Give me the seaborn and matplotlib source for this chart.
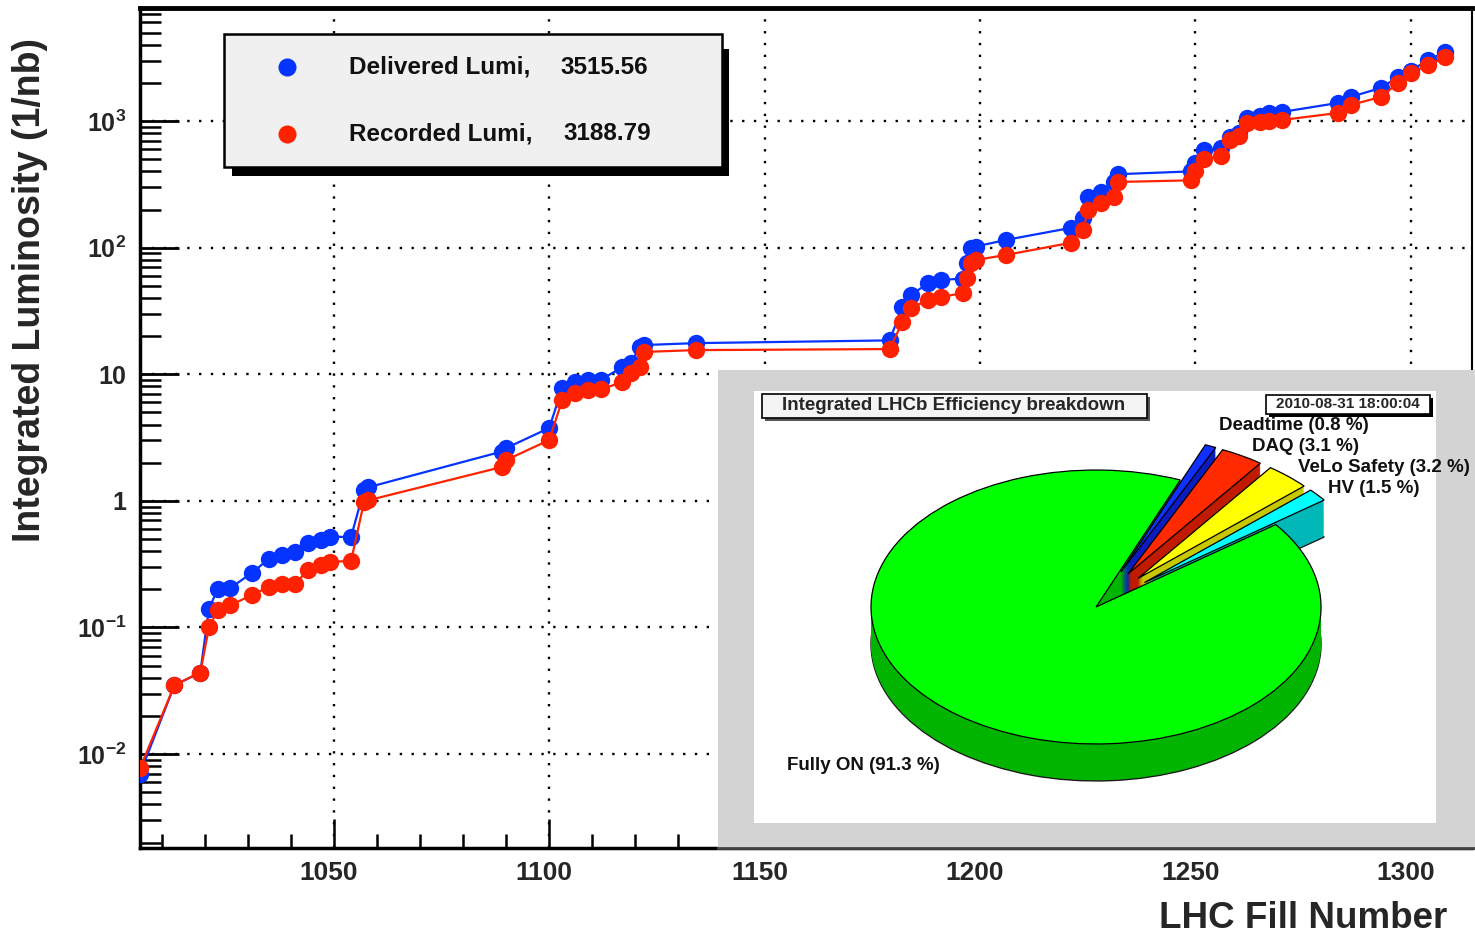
import numpy as np
import pandas as pd
import matplotlib
matplotlib.use("Agg")
import matplotlib.pyplot as plt
import seaborn as sns
from matplotlib.patches import Rectangle
from matplotlib.lines import Line2D
from matplotlib.transforms import ScaledTranslation
from matplotlib.ticker import FixedLocator, MultipleLocator, LogLocator, NullFormatter

# ---------------- data ----------------
fills = [1005, 1013, 1019, 1021, 1023, 1026, 1031, 1035, 1038, 1041, 1044, 1047, 1049,
         1054, 1057, 1058, 1089, 1090, 1100, 1103, 1106, 1109, 1112, 1117, 1119, 1121,
         1122, 1134, 1179, 1182, 1184, 1188, 1191, 1196, 1197, 1198, 1199, 1206, 1221,
         1224, 1225, 1228, 1231, 1232, 1249, 1250, 1252, 1256, 1258, 1260, 1262, 1265,
         1267, 1270, 1283, 1286, 1293, 1297, 1300, 1304, 1308]
delivered = [0.0070, 0.035, 0.044, 0.14, 0.20, 0.205, 0.27, 0.35, 0.373, 0.394, 0.465, 0.49, 0.518,
             0.52, 1.22, 1.28, 2.45, 2.61, 3.76, 7.78, 8.67, 9.0, 9.05, 11.4, 12.3, 16.5,
             17.0, 17.6, 18.5, 34.0, 42.3, 52.5, 55.5, 57.0, 75.0, 100.0, 102.0, 115.0, 143.0,
             170.0, 251.0, 275.0, 330.0, 380.0, 400.0, 470.0, 590.0, 610.0, 748.0, 804.0, 1056.0, 1100.0,
             1157.0, 1178.0, 1387.0, 1548.0, 1823.0, 2227.0, 2500.0, 3032.0, 3515.56]
recorded = [0.0077, 0.035, 0.044, 0.10, 0.137, 0.15, 0.18, 0.21, 0.22, 0.22, 0.284, 0.311, 0.329,
            0.335, 0.98, 1.01, 1.85, 2.10, 3.02, 6.25, 7.11, 7.5, 7.6, 8.67, 10.2, 11.4,
            15.0, 15.5, 15.8, 25.8, 33.4, 38.6, 40.7, 43.8, 57.5, 75.5, 79.8, 87.5, 109.0,
            138.0, 198.0, 225.0, 251.0, 330.0, 340.0, 400.0, 500.0, 530.0, 708.0, 760.0, 964.0, 980.0,
            1000.0, 1018.0, 1157.0, 1337.0, 1548.0, 1995.0, 2395.0, 2767.0, 3188.79]

series_names = ["Delivered Lumi,", "Recorded Lumi,"]
x_ticks = [1050, 1100, 1150, 1200, 1250, 1300]
y_ticks = [1e-2, 1e-1, 1, 10, 1e2, 1e3]
y_tick_labels = [r"$10^{-2}$", r"$10^{-1}$", "1", "10", r"$10^{2}$", r"$10^{3}$"]

eff_labels = ["Deadtime", "DAQ", "VeLo Safety", "HV", "Fully ON"]
eff_values = [0.8, 3.1, 3.2, 1.5, 91.3]
eff_top_colors = ["#1030ff", "#ff2a00", "#ffff00", "#00ffff", "#00ff00"]
eff_side_colors = ["#0a1cc0", "#c01a00", "#c8c800", "#00b8b8", "#00b400"]
eff_explode = [0.28, 0.28, 0.28, 0.28, 0.0]
pie_title = "Integrated LHCb Efficiency breakdown"
pie_date = "2010-08-31 18:00:04"

BLUE = "#0533ff"
RED = "#ff2200"

# ---------------- style ----------------
sns.set_theme(style="white")
plt.rcParams["font.family"] = ["Liberation Sans", "DejaVu Sans"]
plt.rcParams["font.weight"] = "bold"
plt.rcParams["mathtext.fontset"] = "custom"
plt.rcParams["mathtext.rm"] = "Liberation Sans:bold"
plt.rcParams["mathtext.bf"] = "Liberation Sans:bold"
plt.rcParams["mathtext.it"] = "Liberation Sans:bold"
plt.rcParams["mathtext.default"] = "rm"

W, H = 1475, 935
fig = plt.figure(figsize=(W / 100, H / 100), dpi=100, facecolor="white")


def fx(px):
    return px / W


def fy(py):
    return 1 - py / H


# ---------------- main axes ----------------
ax = fig.add_axes([fx(140), fy(848), fx(1472) - fx(140), fy(8) - fy(848)])
ax.set_facecolor("white")
ax.set_yscale("log")

df = pd.DataFrame({"fill": fills, "delivered": delivered, "recorded": recorded})
sns.lineplot(data=df, x="fill", y="delivered", ax=ax, color=BLUE, linewidth=1.6,
             marker="o", markersize=12.5, markeredgewidth=0, estimator=None, sort=False, zorder=3)
sns.lineplot(data=df, x="fill", y="recorded", ax=ax, color=RED, linewidth=1.6,
             marker="o", markersize=12.5, markeredgewidth=0, estimator=None, sort=False, zorder=4)

ax.set_xlim(1005, 1314.2)
ax.set_ylim(0.00181, 7810)
ax.set_xlabel("")
ax.set_ylabel("")

ax.xaxis.set_major_locator(FixedLocator(x_ticks))
ax.set_xticklabels([str(t) for t in x_ticks])
ax.xaxis.set_minor_locator(MultipleLocator(10))
ax.set_yticks(y_ticks, labels=y_tick_labels)
ax.yaxis.set_minor_locator(LogLocator(base=10, subs=np.arange(2, 10)))
ax.yaxis.set_minor_formatter(NullFormatter())

ax.tick_params(axis="both", which="both", direction="in", color="black",
               bottom=True, left=True, top=False, right=False)
ax.tick_params(axis="y", which="major", length=28, width=2.0, pad=10, labelsize=18)
ax.tick_params(axis="y", which="minor", length=15, width=1.8)
ax.tick_params(axis="x", which="major", length=21, width=1.8, pad=9, labelsize=19)
ax.tick_params(axis="x", which="minor", length=10, width=1.8)
shift = ScaledTranslation(-5 / 100, 0, fig.dpi_scale_trans)
for lab in ax.get_xticklabels():
    lab.set_fontweight("bold")
    lab.set_transform(lab.get_transform() + shift)
for lab in ax.get_yticklabels():
    lab.set_fontweight("bold")

ax.grid(True, which="major", color="black", linestyle=(0, (1, 4)), linewidth=1.7)
ax.set_axisbelow(True)
for side, s in ax.spines.items():
    s.set_color("black")
    s.set_linewidth(2.5 if side != "right" else 1.5)
ax.spines["top"].set_linewidth(3.5)

fig.text(fx(30), fy(290), "Integrated Luminosity (1/nb)", rotation=90, ha="center", va="center",
         fontsize=27, fontweight="bold")
fig.text(fx(1447), fy(918), "LHC Fill Number", ha="right", va="center", fontsize=26.5, fontweight="bold")

# ---------------- legend box ----------------
tf = fig.transFigure
ax.add_artist(Rectangle((fx(232), fy(176)), fx(729) - fx(232), fy(49) - fy(176), transform=tf,
                        facecolor="black", edgecolor="none", clip_on=False, zorder=10))
ax.add_artist(Rectangle((fx(224), fy(167)), fx(722) - fx(224), fy(34) - fy(167), transform=tf,
                        facecolor="#f0f0f0", edgecolor="black", linewidth=1.8, clip_on=False, zorder=11))
for i, (name, col, vals) in enumerate(zip(series_names, [BLUE, RED], [delivered, recorded])):
    yy = [67, 134][i]
    ax.add_artist(Line2D([fx(287)], [fy(yy)], marker="o", color=col, markersize=13, markeredgewidth=0,
                         transform=tf, clip_on=False, zorder=12))
    ax.text(fx(349), fy(yy), name, transform=tf, ha="left", va="center", fontsize=17.5,
            fontweight="bold", color="#111111", zorder=12)
    ax.text(fx([560, 563][i]), fy(yy), f"{vals[-1]:.2f}", transform=tf, ha="left", va="center",
            fontsize=17.5, fontweight="bold", color="#111111", zorder=12)

# ---------------- inset: efficiency pie ----------------
ax_bg = fig.add_axes([fx(718), fy(848), fx(1475) - fx(718), fy(370) - fy(848)])
ax_bg.set_facecolor("#d3d3d3")
ax_bg.set_xticks([])
ax_bg.set_yticks([])
for side, s in ax_bg.spines.items():
    s.set_visible(side == "bottom")
ax_bg.spines["bottom"].set_color("#444444")
ax_bg.spines["bottom"].set_linewidth(2)

ax_pie = fig.add_axes([fx(754), fy(823), fx(1436) - fx(754), fy(391) - fy(823)])

n_layers = 36
depth = 0.27
start = 68
for k in range(n_layers, 0, -1):
    d = depth * k / n_layers
    if k == n_layers:
        wp = dict(linewidth=1.0, edgecolor="#1a1a1a")
    else:
        wp = dict(linewidth=0)
    ax_pie.pie(eff_values, explode=eff_explode, colors=eff_side_colors, startangle=start,
               counterclock=False, center=(0, -d), wedgeprops=wp)
ax_pie.pie(eff_values, explode=eff_explode, colors=eff_top_colors, startangle=start,
           counterclock=False, center=(0, 0), wedgeprops=dict(linewidth=0.9, edgecolor="black"))

ax_pie.set_aspect("auto")
ax_pie.set_xlim(-1.52, 1.511)
ax_pie.set_ylim(-1.577, 1.577)
ax_pie.set_frame_on(True)
ax_pie.set_facecolor("white")
for s in ax_pie.spines.values():
    s.set_visible(False)
ax_pie.set_xticks([])
ax_pie.set_yticks([])

# title box
ax_pie.add_artist(Rectangle((fx(765), fy(421)), fx(1150) - fx(765), fy(397) - fy(421), transform=tf,
                            facecolor="#555555", edgecolor="none", clip_on=False, zorder=5))
ax_pie.add_artist(Rectangle((fx(762), fy(418)), fx(1147) - fx(762), fy(394) - fy(418), transform=tf,
                            facecolor="#f4f4f4", edgecolor="black", linewidth=1.2, clip_on=False, zorder=6))
ax_pie.text(fx(954), fy(406), pie_title, transform=tf, ha="center", va="center", fontsize=13.5,
            fontweight="bold", zorder=7)
# date box
ax_pie.add_artist(Rectangle((fx(1269), fy(417)), fx(1433) - fx(1269), fy(398) - fy(417), transform=tf,
                            facecolor="black", edgecolor="none", clip_on=False, zorder=5))
ax_pie.add_artist(Rectangle((fx(1266), fy(414)), fx(1430) - fx(1266), fy(395) - fy(414), transform=tf,
                            facecolor="white", edgecolor="black", linewidth=1.2, clip_on=False, zorder=6))
ax_pie.text(fx(1348), fy(404.5), pie_date, transform=tf, ha="center", va="center", fontsize=11,
            fontweight="bold", zorder=7)

# slice labels
label_pos = [(1219, 426), (1252, 447), (1298, 468), (1328, 489), (787, 766)]
for name, val, (px, py) in zip(eff_labels, eff_values, label_pos):
    ax_pie.text(fx(px), fy(py), f"{name} ({val} %)", transform=tf, ha="left", va="center",
                fontsize=13.5, fontweight="bold", color="#111111", zorder=8)

fig.savefig("out.png", dpi=100, facecolor="white")
